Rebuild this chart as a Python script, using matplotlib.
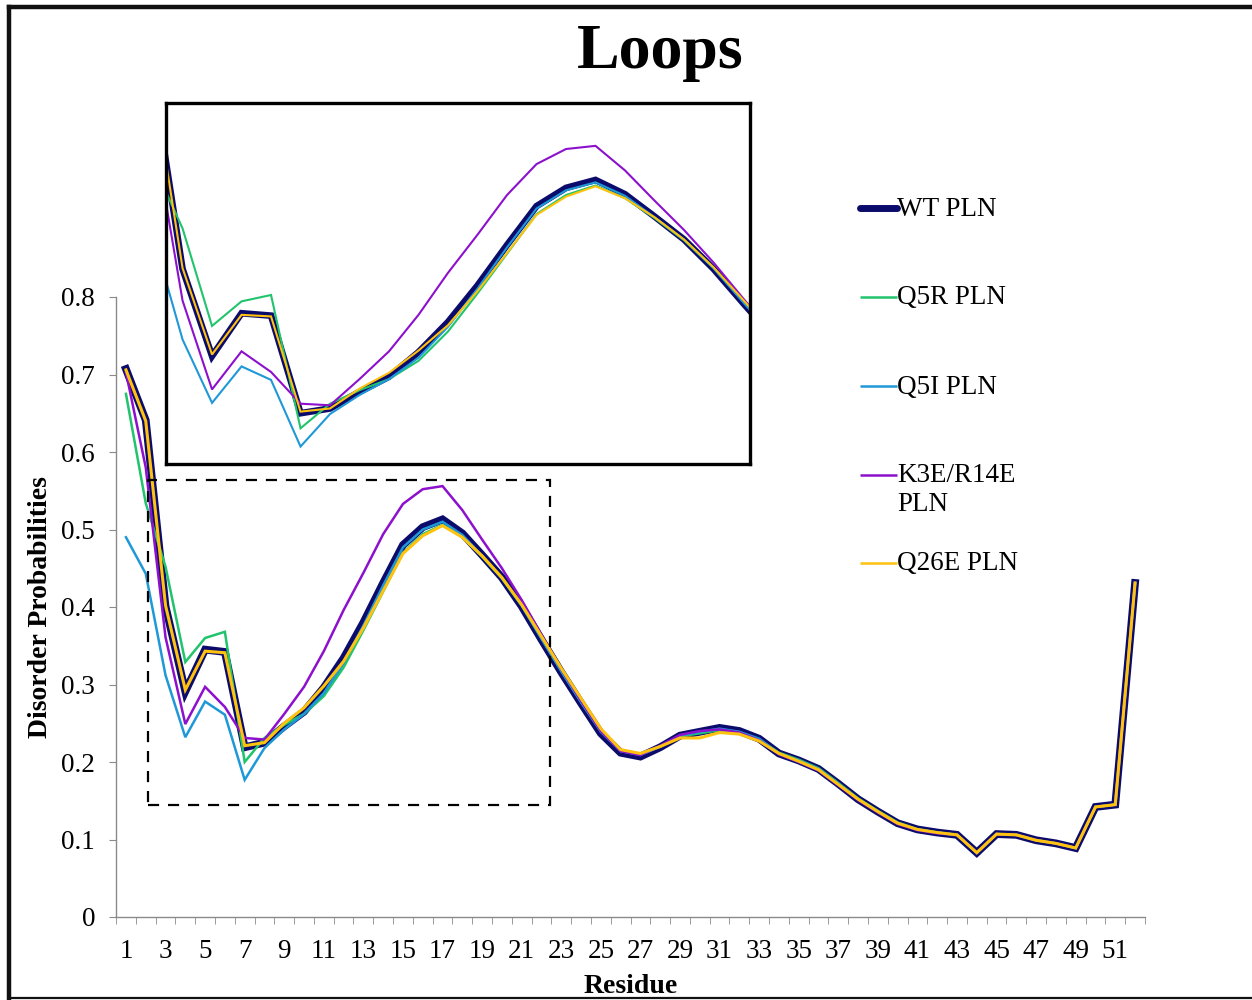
import numpy as np
import matplotlib
matplotlib.use("Agg")
import matplotlib.pyplot as plt
from matplotlib.lines import Line2D
from matplotlib.patches import Rectangle

# ---------------------------------------------------------
# Dados (probabilidade de desordem por resíduo)
# ---------------------------------------------------------
residues = list(range(1, 53))

wt = [0.707, 0.641, 0.401, 0.291, 0.345, 0.342, 0.219, 0.225, 0.246, 0.265,
      0.296, 0.334, 0.380, 0.431, 0.480, 0.503, 0.513, 0.495, 0.467, 0.438,
      0.401, 0.358, 0.316, 0.276, 0.237, 0.212, 0.207, 0.219, 0.234, 0.239,
      0.244, 0.240, 0.230, 0.211, 0.202, 0.191, 0.172, 0.152, 0.136, 0.121,
      0.113, 0.109, 0.106, 0.083, 0.107, 0.106, 0.099, 0.095, 0.089, 0.142,
      0.145, 0.431]

q5r = [0.675, 0.534, 0.452, 0.329, 0.360, 0.368, 0.200, 0.231, 0.248, 0.262,
       0.285, 0.322, 0.370, 0.420, 0.470, 0.494, 0.506, 0.490, 0.465, 0.437,
       0.402, 0.360, 0.318, 0.278, 0.240, 0.215, 0.210, 0.220, 0.233, 0.237,
       0.241, 0.238, 0.229, 0.212, 0.203, 0.192, 0.173, 0.153, 0.137, 0.122,
       0.113, 0.109, 0.106, 0.083, 0.107, 0.106, 0.099, 0.095, 0.089, 0.142,
       0.145, 0.431]

q5i = [0.490, 0.443, 0.312, 0.232, 0.278, 0.261, 0.177, 0.218, 0.242, 0.262,
       0.289, 0.328, 0.376, 0.428, 0.477, 0.500, 0.510, 0.493, 0.466, 0.438,
       0.402, 0.359, 0.317, 0.277, 0.239, 0.214, 0.209, 0.220, 0.234, 0.239,
       0.243, 0.239, 0.230, 0.211, 0.202, 0.191, 0.172, 0.152, 0.136, 0.121,
       0.113, 0.109, 0.106, 0.083, 0.107, 0.106, 0.099, 0.095, 0.089, 0.142,
       0.145, 0.431]

k3e_r14e = [0.703, 0.580, 0.361, 0.249, 0.297, 0.271, 0.231, 0.229, 0.262, 0.297,
            0.343, 0.396, 0.444, 0.494, 0.533, 0.552, 0.556, 0.525, 0.487, 0.450,
            0.409, 0.364, 0.320, 0.279, 0.240, 0.214, 0.209, 0.221, 0.235, 0.240,
            0.242, 0.238, 0.228, 0.210, 0.200, 0.189, 0.170, 0.151, 0.135, 0.120,
            0.112, 0.108, 0.106, 0.083, 0.107, 0.106, 0.099, 0.095, 0.089, 0.142,
            0.145, 0.431]

q26e = [0.706, 0.640, 0.402, 0.293, 0.343, 0.341, 0.221, 0.225, 0.250, 0.270,
        0.298, 0.330, 0.373, 0.421, 0.469, 0.492, 0.505, 0.490, 0.466, 0.438,
        0.403, 0.362, 0.321, 0.282, 0.243, 0.216, 0.211, 0.220, 0.231, 0.231,
        0.238, 0.236, 0.227, 0.211, 0.201, 0.190, 0.171, 0.152, 0.136, 0.121,
        0.113, 0.109, 0.106, 0.083, 0.107, 0.106, 0.099, 0.095, 0.089, 0.142,
        0.145, 0.431]

labels = ["WT PLN", "Q5R PLN", "Q5I PLN", "K3E/R14E\nPLN", "Q26E PLN"]
colors = ["#0b0b6b", "#21c46c", "#1f98d8", "#8c10cc", "#ffc20e"]
series = [wt, q5r, q5i, k3e_r14e, q26e]

# região ampliada (caixa tracejada)
zoom_x = (2.11, 22.44)
zoom_y = (0.1445, 0.564)

# ---------------------------------------------------------
# Figura
# ---------------------------------------------------------
plt.rcParams["font.family"] = ["Liberation Serif", "DejaVu Serif"]

fig = plt.figure(figsize=(12.52, 10), dpi=100)
ax = fig.add_axes([0.0927, 0.083, 0.8218, 0.620])

main_lw = [5.6, 1.8, 1.8, 1.8, 2.2]
for s, c, lw in zip(series, colors, main_lw):
    ax.plot(residues, s, color=c, lw=lw, solid_joinstyle="miter")

ax.set_xlim(0.5, 52.5)
ax.set_ylim(0, 0.8)
ax.set_yticks(np.arange(0, 0.81, 0.1))
ax.set_yticklabels(["0"] + [f"{v:.1f}" for v in np.arange(0.1, 0.81, 0.1)])
ax.set_xticks(residues[::2])
ax.set_xticks(np.arange(0.5, 53, 1), minor=True)
ax.tick_params(axis="x", which="major", length=0, pad=16, labelsize=19.5)
ax.tick_params(axis="x", which="minor", length=5, color="#8a8a8a", direction="out")
ax.tick_params(axis="y", length=5, color="#8a8a8a", pad=10, labelsize=19.5)
for side in ["top", "right"]:
    ax.spines[side].set_visible(False)
for side in ["left", "bottom"]:
    ax.spines[side].set_color("#8a8a8a")
    ax.spines[side].set_linewidth(1.0)

ax.set_xlabel("Residue", fontsize=20, fontweight="bold", labelpad=7)
ax.set_ylabel("Disorder Probabilities", fontsize=20, fontweight="bold", labelpad=6)

ax.add_patch(Rectangle((zoom_x[0], zoom_y[0]), zoom_x[1] - zoom_x[0],
                       zoom_y[1] - zoom_y[0], fill=False, ec="black",
                       lw=1.6, ls=(0, (5, 4)), zorder=5))

# ---------------------------------------------------------
# Inset
# ---------------------------------------------------------
axin = fig.add_axes([0.1326, 0.536, 0.4665, 0.361])
inset_lw = [4.8, 1.5, 1.5, 1.5, 1.5]
for s, c, lw in zip(series, colors, inset_lw):
    axin.plot(residues, s, color=c, lw=lw, solid_joinstyle="miter")
axin.set_xlim(2.44, 22.24)
axin.set_ylim(0.155, 0.61)
axin.set_xticks([])
axin.set_yticks([])
for sp in axin.spines.values():
    sp.set_linewidth(2.4)
    sp.set_color("black")

# ---------------------------------------------------------
# Legenda manual
# ---------------------------------------------------------
leg_y = [208, 297, 386, 475, 563]
for lab, c, y, i in zip(labels, colors, leg_y, range(5)):
    yf = 1 - y / 1000
    fig.add_artist(Line2D([0.687, 0.7165], [yf, yf], color=c,
                          lw=5.0 if i == 0 else 1.8,
                          solid_capstyle="round" if i == 0 else "butt",
                          transform=fig.transFigure))
    fig.text(0.7165, yf + 0.0115, lab, fontsize=19.5, ha="left", va="top",
             linespacing=1.2)

# Título
fig.text(0.527, 0.947, "Loops", fontsize=46, fontweight="bold",
         ha="center", va="center")

# moldura da figura
fig.add_artist(Line2D([0.0072, 0.0072], [0.002, 0.993], color="#111111",
                      lw=3.2, transform=fig.transFigure))
fig.add_artist(Line2D([0.0072, 1.0], [0.993, 0.993], color="#111111",
                      lw=3.2, transform=fig.transFigure))
fig.add_artist(Line2D([0.0072, 1.0], [0.002, 0.002], color="#111111",
                      lw=1.6, transform=fig.transFigure))

fig.savefig("out.png", dpi=100)
